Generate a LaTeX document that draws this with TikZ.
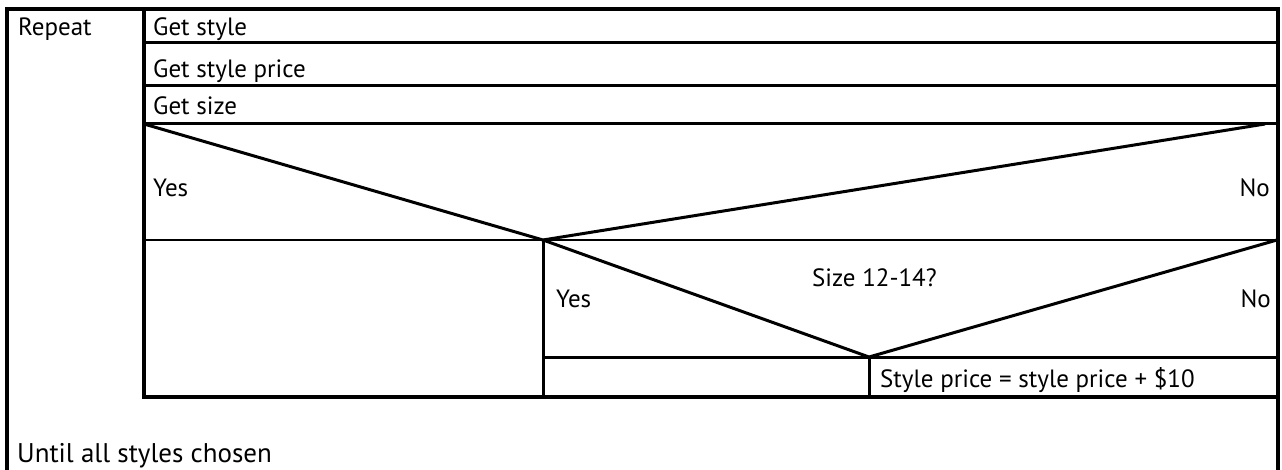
\documentclass[tikz,border=0pt]{standalone}
\usepackage{fontspec}
\setmainfont{PT Sans}
\begin{document}
\begin{tikzpicture}[x=1pt,y=-1pt,
  lbl/.style={anchor=base west,inner sep=0pt,font=\fontsize{25}{29}\selectfont},
  lblr/.style={anchor=base east,inner sep=0pt,font=\fontsize{25}{29}\selectfont},
  frame/.style={line width=3.4pt,line cap=rect},
  row/.style={line width=3pt},
  thin/.style={line width=1.8pt},
  diag/.style={line width=3pt,line join=miter}]
\useasboundingbox (0,0) rectangle (1282,470);
% outer frame (no bottom edge)
\draw[frame] (7,472) -- (7,9) -- (1278,9) -- (1278,472);
% inner box
\draw[frame] (144,9) -- (144,397) -- (1278,397);
\draw[row] (144,43) -- (1278,43);
\draw[row] (144,86) -- (1278,86);
\draw[row] (144,124) -- (1278,124);
% first decision
\draw[diag] (144,124) -- (543,240) -- (1265,124);
\draw[thin] (144,240) -- (1278,240);
\draw[row] (543,240) -- (543,397);
% second decision
\draw[diag] (543,240) -- (869,357) -- (1277,240);
\draw[row] (543,357) -- (1278,357);
\draw[row] (869,357) -- (869,397);
% texts
\node[lbl] (repeat) at (18,36) {Repeat};
\node[lbl] (getstyle) at (153,36) {Get style};
\node[lbl] (getprice) at (153,78) {Get style price};
\node[lbl] (getsize) at (153,115) {Get size};
\node[lbl] (yes1) at (153,197) {Yes};
\node[lblr] (no1) at (1270,197) {No};
\node[lbl] (size) at (812,287) {Size 12-14?};
\node[lbl] (yes2) at (556,308) {Yes};
\node[lblr] (no2) at (1271,308) {No};
\node[lbl] (add) at (880,387) {Style price = style price + \$10};
\node[lbl,font=\fontsize{27}{31}\selectfont] (until) at (17,462) {Until all styles chosen};
\end{tikzpicture}
\end{document}
